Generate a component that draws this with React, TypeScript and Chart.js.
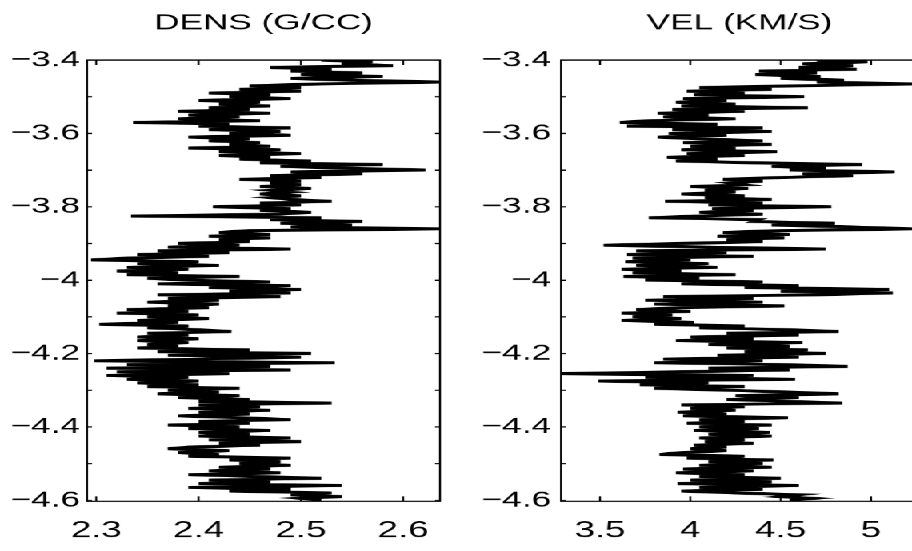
import React, { useEffect, useRef } from "react";
import { Chart, registerables } from "chart.js";

Chart.register(...registerables);

const STRETCH = 1.6;
const FONT = "'Liberation Sans', Arial, Helvetica, sans-serif";

const DEPTH: number[] = [
  -3.4, -3.405, -3.41, -3.415, -3.42, -3.425, -3.43, -3.435, -3.44, -3.445,
  -3.45, -3.455, -3.46, -3.465, -3.47, -3.475, -3.48, -3.485, -3.49, -3.495,
  -3.5, -3.505, -3.51, -3.515, -3.52, -3.525, -3.53, -3.535, -3.54, -3.545,
  -3.55, -3.555, -3.56, -3.565, -3.57, -3.575, -3.58, -3.585, -3.59, -3.595,
  -3.6, -3.605, -3.61, -3.615, -3.62, -3.625, -3.63, -3.635, -3.64, -3.645,
  -3.65, -3.655, -3.66, -3.665, -3.67, -3.675, -3.68, -3.685, -3.69, -3.695,
  -3.7, -3.705, -3.71, -3.715, -3.72, -3.725, -3.73, -3.735, -3.74, -3.745,
  -3.75, -3.755, -3.76, -3.765, -3.77, -3.775, -3.78, -3.785, -3.79, -3.795,
  -3.8, -3.805, -3.81, -3.815, -3.82, -3.825, -3.83, -3.835, -3.84, -3.845,
  -3.85, -3.855, -3.86, -3.865, -3.87, -3.875, -3.88, -3.885, -3.89, -3.895,
  -3.9, -3.905, -3.91, -3.915, -3.92, -3.925, -3.93, -3.935, -3.94, -3.945,
  -3.95, -3.955, -3.96, -3.965, -3.97, -3.975, -3.98, -3.985, -3.99, -3.995,
  -4.0, -4.005, -4.01, -4.015, -4.02, -4.025, -4.03, -4.035, -4.04, -4.045,
  -4.05, -4.055, -4.06, -4.065, -4.07, -4.075, -4.08, -4.085, -4.09, -4.095,
  -4.1, -4.105, -4.11, -4.115, -4.12, -4.125, -4.13, -4.135, -4.14, -4.145,
  -4.15, -4.155, -4.16, -4.165, -4.17, -4.175, -4.18, -4.185, -4.19, -4.195,
  -4.2, -4.205, -4.21, -4.215, -4.22, -4.225, -4.23, -4.235, -4.24, -4.245,
  -4.25, -4.255, -4.26, -4.265, -4.27, -4.275, -4.28, -4.285, -4.29, -4.295,
  -4.3, -4.305, -4.31, -4.315, -4.32, -4.325, -4.33, -4.335, -4.34, -4.345,
  -4.35, -4.355, -4.36, -4.365, -4.37, -4.375, -4.38, -4.385, -4.39, -4.395,
  -4.4, -4.405, -4.41, -4.415, -4.42, -4.425, -4.43, -4.435, -4.44, -4.445,
  -4.45, -4.455, -4.46, -4.465, -4.47, -4.475, -4.48, -4.485, -4.49, -4.495,
  -4.5, -4.505, -4.51, -4.515, -4.52, -4.525, -4.53, -4.535, -4.54, -4.545,
  -4.55, -4.555, -4.56, -4.565, -4.57, -4.575, -4.58, -4.585, -4.59, -4.595,
  -4.6,
];

const DENS: number[] = [
  2.52, 2.57, 2.54, 2.59, 2.47, 2.53, 2.49, 2.56, 2.5, 2.58,
  2.49, 2.55, 2.636, 2.52, 2.45, 2.5, 2.44, 2.5, 2.41, 2.47,
  2.43, 2.49, 2.4, 2.46, 2.42, 2.47, 2.41, 2.45, 2.38, 2.47,
  2.39, 2.44, 2.38, 2.46, 2.336, 2.43, 2.4, 2.49, 2.41, 2.48,
  2.43, 2.49, 2.39, 2.45, 2.41, 2.46, 2.43, 2.47, 2.39, 2.48,
  2.42, 2.5, 2.42, 2.47, 2.44, 2.51, 2.46, 2.58, 2.48, 2.55,
  2.622, 2.49, 2.56, 2.47, 2.52, 2.44, 2.5, 2.47, 2.5, 2.46,
  2.51, 2.47, 2.49, 2.46, 2.5, 2.47, 2.49, 2.53, 2.46, 2.5,
  2.414, 2.49, 2.46, 2.51, 2.48, 2.334, 2.52, 2.47, 2.56, 2.48,
  2.55, 2.49, 2.635, 2.45, 2.42, 2.47, 2.41, 2.47, 2.42, 2.45,
  2.38, 2.44, 2.37, 2.49, 2.36, 2.43, 2.34, 2.41, 2.33, 2.295,
  2.4, 2.34, 2.42, 2.33, 2.39, 2.32, 2.38, 2.33, 2.44, 2.35,
  2.39, 2.47, 2.36, 2.49, 2.41, 2.5, 2.43, 2.49, 2.36, 2.48,
  2.37, 2.42, 2.35, 2.42, 2.37, 2.41, 2.33, 2.39, 2.32, 2.4,
  2.35, 2.41, 2.34, 2.38, 2.303, 2.39, 2.35, 2.4, 2.432, 2.35,
  2.39, 2.34, 2.4, 2.34, 2.39, 2.35, 2.38, 2.34, 2.45, 2.36,
  2.51, 2.37, 2.5, 2.4, 2.298, 2.533, 2.33, 2.47, 2.31, 2.49,
  2.32, 2.43, 2.31, 2.39, 2.33, 2.4, 2.34, 2.4, 2.35, 2.44,
  2.37, 2.42, 2.36, 2.44, 2.38, 2.45, 2.4, 2.53, 2.4, 2.46,
  2.39, 2.47, 2.4, 2.45, 2.38, 2.44, 2.49, 2.4, 2.45, 2.37,
  2.44, 2.39, 2.47, 2.4, 2.45, 2.4, 2.49, 2.41, 2.5, 2.42,
  2.46, 2.39, 2.37, 2.43, 2.38, 2.42, 2.39, 2.49, 2.43, 2.48,
  2.44, 2.49, 2.42, 2.47, 2.41, 2.48, 2.39, 2.45, 2.52, 2.41,
  2.47, 2.4, 2.54, 2.39, 2.49, 2.43, 2.53, 2.49, 2.54, 2.5,
  2.52,
];

const VEL: number[] = [
  4.7, 4.98, 4.62, 4.9, 4.6, 4.92, 4.38, 4.7, 4.36, 4.72,
  4.5, 4.85, 4.7, 5.23, 4.6, 4.05, 4.45, 3.98, 4.3, 4.02,
  4.63, 3.96, 4.2, 3.92, 4.25, 3.95, 4.65, 3.9, 4.3, 3.82,
  4.1, 3.85, 4.25, 3.78, 3.61, 4.15, 3.65, 4.4, 3.9, 4.45,
  3.88, 4.2, 3.82, 4.05, 4.4, 3.96, 4.45, 4.0, 4.25, 3.95,
  4.48, 3.98, 4.3, 3.87, 4.15, 3.92, 4.35, 4.95, 4.45, 4.75,
  4.55, 5.13, 4.62, 4.9, 4.52, 4.18, 4.4, 4.22, 4.3, 4.0,
  4.32, 4.08, 4.25, 3.95, 4.3, 4.08, 4.45, 3.86, 4.4, 4.1,
  4.78, 4.12, 4.35, 4.05, 4.4, 4.05, 3.77, 4.38, 4.35, 4.8,
  4.45, 4.9, 5.23, 4.5, 4.18, 4.55, 4.15, 4.52, 4.2, 4.4,
  3.95, 3.52, 4.1, 4.75, 3.7, 4.2, 3.65, 4.35, 3.68, 4.0,
  3.64, 4.1, 3.7, 4.15, 3.62, 3.95, 3.68, 4.25, 3.63, 4.05,
  3.75, 4.4, 3.95, 4.6, 4.3, 5.1, 4.5, 5.12, 4.7, 3.85,
  4.35, 3.75, 4.4, 3.8, 4.52, 3.95, 3.7, 4.0, 3.62, 3.9,
  3.68, 3.95, 3.62, 4.02, 3.8, 4.3, 4.05, 4.55, 4.82, 4.2,
  4.6, 4.0, 4.35, 3.92, 4.62, 4.1, 4.55, 4.2, 4.65, 4.3,
  4.75, 4.15, 4.6, 3.85, 4.4, 3.8, 4.5, 4.87, 4.1, 4.55,
  3.9, 3.285, 4.35, 3.75, 4.58, 3.49, 4.1, 3.72, 4.3, 3.8,
  4.2, 4.55, 4.82, 4.25, 4.6, 4.2, 4.5, 4.84, 3.95, 4.3,
  4.0, 4.25, 3.93, 4.2, 3.96, 4.54, 4.05, 4.3, 3.98, 4.45,
  4.05, 4.38, 4.02, 4.44, 4.1, 4.45, 4.05, 4.3, 4.08, 4.35,
  4.02, 4.2, 4.0, 4.2, 3.95, 3.83, 4.3, 3.98, 4.46, 4.1,
  4.4, 4.05, 4.45, 3.96, 4.35, 3.92, 4.3, 4.05, 4.5, 4.0,
  4.45, 3.93, 4.6, 4.05, 4.4, 3.95, 4.25, 4.6, 4.5, 4.68,
  4.55,
];

const DEPTH_TICKS = [-3.4, -3.6, -3.8, -4, -4.2, -4.4, -4.6];
const DEPTH_MARKS = [-3.4, -3.5, -3.6, -3.7, -3.8, -3.9, -4, -4.1, -4.2, -4.3, -4.4, -4.5, -4.6];
const DENS_TICKS = [2.3, 2.4, 2.5, 2.6];
const VEL_TICKS = [3.5, 4, 4.5, 5];

type PanelProps = {
  title: string;
  values: number[];
  xTicks: number[];
  xMin: number;
  xMax: number;
  left: number;
  width: number;
  axisWidth: number;
  labelPad: number;
  padRight: number;
};

function Panel(p: PanelProps) {
  const ref = useRef<HTMLCanvasElement>(null);
  useEffect(() => {
    const frame = {
      id: "frame",
      afterDatasetsDraw(chart: any) {
        const { ctx, chartArea: a, scales } = chart;
        ctx.save();
        ctx.strokeStyle = "#000";
        ctx.lineWidth = 1.2;
        ctx.strokeRect(a.left, a.top, a.right - a.left, a.bottom - a.top);
        const tx = 5 / STRETCH;
        ctx.beginPath();
        for (const v of DEPTH_MARKS) {
          const py = scales.y.getPixelForValue(v);
          ctx.moveTo(a.left, py);
          ctx.lineTo(a.left + tx, py);
          ctx.moveTo(a.right, py);
          ctx.lineTo(a.right - tx, py);
        }
        for (const v of p.xTicks) {
          const px = scales.x.getPixelForValue(v);
          ctx.moveTo(px, a.bottom);
          ctx.lineTo(px, a.bottom - 5);
          ctx.moveTo(px, a.top);
          ctx.lineTo(px, a.top + 5);
        }
        ctx.stroke();
        ctx.restore();
      },
    };
    const chart = new Chart(ref.current as HTMLCanvasElement, {
      type: "scatter",
      data: {
        datasets: [
          {
            data: DEPTH.map((d, i) => ({ x: p.values[i], y: d })),
            showLine: true,
            borderColor: "#000",
            backgroundColor: "#000",
            borderWidth: 3,
            borderJoinStyle: "miter",
            pointRadius: 0,
            pointHoverRadius: 0,
            tension: 0,
          } as any,
        ],
      },
      options: {
        responsive: true,
        maintainAspectRatio: false,
        animation: false,
        devicePixelRatio: STRETCH,
        events: [],
        layout: { padding: { left: 0, right: p.padRight, top: 0, bottom: 0 } },
        plugins: {
          legend: { display: false },
          tooltip: { enabled: false },
          title: {
            display: true,
            text: p.title,
            fullSize: false,
            color: "#000",
            font: { family: FONT, size: 22, weight: "normal" },
            padding: { top: 10, bottom: 23.6 },
          },
        },
        scales: {
          x: {
            type: "linear",
            min: p.xMin,
            max: p.xMax,
            afterBuildTicks: (s: any) => {
              s.ticks = p.xTicks.map((v) => ({ value: v }));
            },
            afterFit: (s: any) => {
              s.height = 50;
            },
            grid: { display: false, drawTicks: false },
            border: { display: false },
            ticks: {
              color: "#000",
              font: { family: FONT, size: 23 },
              padding: 16,
              maxRotation: 0,
              autoSkip: false,
              callback: (v: any) => String(v),
            },
          },
          y: {
            type: "linear",
            min: -4.603,
            max: -3.4,
            afterBuildTicks: (s: any) => {
              s.ticks = DEPTH_TICKS.map((v) => ({ value: v }));
            },
            afterFit: (s: any) => {
              s.width = p.axisWidth;
            },
            grid: { display: false, drawTicks: false },
            border: { display: false },
            ticks: {
              color: "#000",
              font: { family: FONT, size: 22 },
              padding: p.labelPad,
              autoSkip: false,
              callback: (v: any) => String(v).replace("-", "\u2212"),
            },
          },
        },
      } as any,
      plugins: [frame],
    });
    return () => chart.destroy();
  }, []);
  return (
    <div style={{ position: "absolute", left: p.left, top: 0, width: p.width, height: 551 }}>
      <canvas ref={ref} />
    </div>
  );
}

export default function App() {
  return (
    <div
      style={{
        position: "fixed",
        left: 0,
        top: 0,
        width: 912,
        height: 551,
        overflow: "hidden",
        background: "#fff",
      }}
    >
      <div
        style={{
          position: "absolute",
          left: 0,
          top: 0,
          width: 620,
          height: 551,
          transform: `scaleX(${STRETCH})`,
          transformOrigin: "0 0",
        }}
      >
        <Panel
          title="DENS (G/CC)"
          values={DENS}
          xTicks={DENS_TICKS}
          xMin={2.291}
          xMax={2.636}
          left={0}
          width={285}
          axisWidth={54.4}
          labelPad={4.4}
          padRight={6.9}
        />
        <Panel
          title="VEL (KM/S)"
          values={VEL}
          xTicks={VEL_TICKS}
          xMin={3.284}
          xMax={5.26}
          left={290}
          width={320}
          axisWidth={60.6}
          labelPad={6.2}
          padRight={36.25}
        />
      </div>
    </div>
  );
}
